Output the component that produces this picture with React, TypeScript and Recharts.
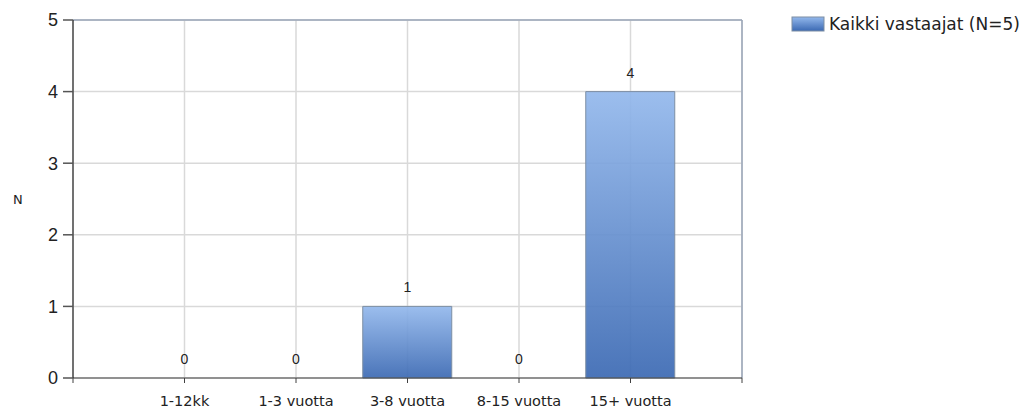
import { Bar, CartesianGrid, ComposedChart, LabelList, Line, ReferenceLine, XAxis, YAxis } from "recharts"

const categories = ["1-12kk", "1-3 vuotta", "3-8 vuotta", "8-15 vuotta", "15+ vuotta"]
const counts = [0, 0, 1, 0, 4]
const yTicks = [0, 1, 2, 3, 4, 5]
const seriesName = "Kaikki vastaajat (N=5)"

// categories sit on whole-number positions 1..5 of a 0..6 axis
const data = categories.map((name, i) => ({ pos: i + 1, name, value: counts[i] }))
const xTicks = [0, ...data.map((d) => d.pos), categories.length + 1]

const labelFont = "'DejaVu Sans', Verdana, sans-serif"
const numberFont = "'Liberation Sans', Arial, sans-serif"

function LegendBox() {
  return (
    <div
      style={{
        position: "absolute",
        left: 791,
        top: 14,
        display: "flex",
        alignItems: "center",
        fontFamily: labelFont,
        fontSize: 17,
        color: "#222",
        whiteSpace: "nowrap",
      }}
    >
      <svg width={34} height={16} style={{ marginRight: 4 }}>
        <defs>
          <linearGradient id="legendFill" x1="0" y1="0" x2="0" y2="1">
            <stop offset="0%" stopColor="#93b8ec" />
            <stop offset="100%" stopColor="#3b69b3" />
          </linearGradient>
        </defs>
        <rect x={1} y={1} width={32} height={14} fill="url(#legendFill)" stroke="#7d8ea3" />
      </svg>
      <span>{seriesName}</span>
    </div>
  )
}

export default function App() {
  return (
    <div style={{ position: "absolute", left: 0, top: 0, width: 1022, height: 410, background: "#fff" }}>
      <ComposedChart width={1022} height={410} data={data} margin={{ top: 20, right: 280, left: 0, bottom: 0 }}>
        <defs>
          <linearGradient id="barFill" x1="0" y1="0" x2="0" y2="1">
            <stop offset="0%" stopColor="#93b8ec" />
            <stop offset="100%" stopColor="#3b69b3" />
          </linearGradient>
        </defs>
        <CartesianGrid stroke="#d9d9d9" strokeWidth={1.5} />
        <XAxis
          type="number"
          dataKey="pos"
          domain={[0, categories.length + 1]}
          ticks={xTicks}
          interval={0}
          tickFormatter={(v: number) => categories[v - 1] ?? ""}
          height={32}
          stroke="#404040"
          tickSize={5}
          tickMargin={13}
          tick={{ fill: "#222", fontSize: 14.5, fontFamily: labelFont }}
        />
        <YAxis
          domain={[0, 5]}
          ticks={yTicks}
          width={73}
          stroke="#000"
          tickSize={10}
          tickMargin={5}
          tick={{ fill: "#222", fontSize: 18, fontFamily: numberFont }}
          tickLine={{ stroke: "#555", strokeWidth: 1.5 }}
          label={{ value: "N", position: "insideLeft", offset: 13, fill: "#222", fontSize: 13, fontFamily: labelFont }}
        />
        <ReferenceLine y={5} stroke="#9aa6b8" strokeWidth={1.5} />
        <ReferenceLine x={categories.length + 1} stroke="#9aa6b8" strokeWidth={1.5} />
        <Bar
          dataKey="value"
          name={seriesName}
          barSize={89}
          fill="url(#barFill)"
          fillOpacity={0.92}
          stroke="#7d8ea3"
          isAnimationActive={false}
        />
        {/* value labels, kept on a hidden line so the zero counts get one too */}
        <Line dataKey="value" stroke="none" dot={false} activeDot={false} legendType="none" isAnimationActive={false}>
          <LabelList dataKey="value" position="top" offset={14} fill="#222" fontSize={14} fontFamily={numberFont} />
        </Line>
      </ComposedChart>
      <LegendBox />
    </div>
  )
}
